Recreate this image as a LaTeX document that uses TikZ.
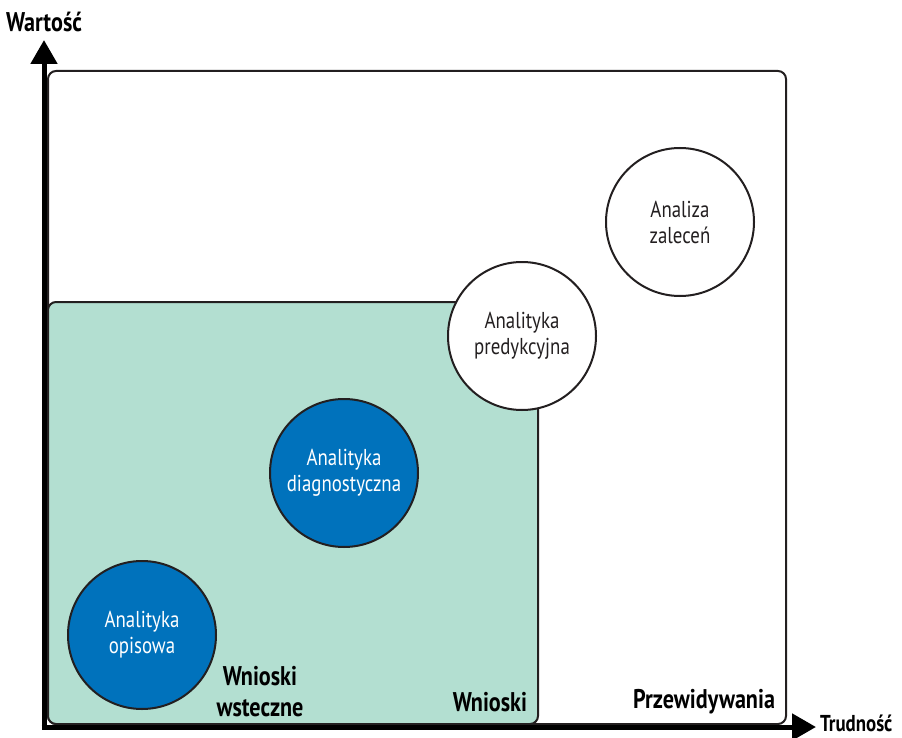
\documentclass[tikz,border=0pt]{standalone}
\usepackage{fontspec}
\setmainfont[FakeStretch=0.82]{PT Sans}
\usetikzlibrary{arrows.meta}
\definecolor{bluefill}{HTML}{0072BC}
\definecolor{greenfill}{HTML}{B3DFD1}
\definecolor{edge}{HTML}{231F20}
\begin{document}
\begin{tikzpicture}[x=1pt,y=-1pt,
  circ/.style={circle,draw=edge,line width=2pt,minimum size=148pt,inner sep=0pt,align=center,font=\fontsize{23}{26}\selectfont},
  bluec/.style={circ,fill=bluefill,text=white},
  whitec/.style={circ,fill=white,text=edge},
  lab/.style={font=\fontsize{27}{31}\selectfont\bfseries,text=black,align=center},
  axis/.style={line width=5pt,-{Triangle[length=24pt,width=26pt]}}]
\useasboundingbox (0,0) rectangle (902,738);
% outer region
\draw[edge,line width=2pt,rounded corners=8pt,fill=white] (48,71) rectangle (786,724);
% green region
\draw[edge,line width=2pt,rounded corners=8pt,fill=greenfill] (48,302) rectangle (538,724);
% circles
\node[whitec] (zal) at (680,222) {Analiza\\zaleceń};
\node[whitec] (pre) at (522,336) {Analityka\\predykcyjna};
\node[bluec] (dia) at (344,473) {Analityka\\diagnostyczna};
\node[bluec] (opi) at (142,635) {Analityka\\opisowa};
% labels
\node[lab] (wst) at (260,692) {Wnioski\\wsteczne};
\node[lab] (wn) at (490,702) {Wnioski};
\node[lab] (prz) at (704,702) {Przewidywania};
% axes
\coordinate (ytip) at (44,40);
\coordinate (xtip) at (816,727);
\draw[axis] (44,729.5) -- (ytip);
\draw[axis] (41.5,727) -- (xtip);
\node[lab] (wart) at (44,22) {Wartość};
\node[lab,anchor=base west,inner sep=0pt,font=\fontsize{23}{27}\selectfont\bfseries] (tru) at (820,731) {Trudność};
\end{tikzpicture}
\end{document}
